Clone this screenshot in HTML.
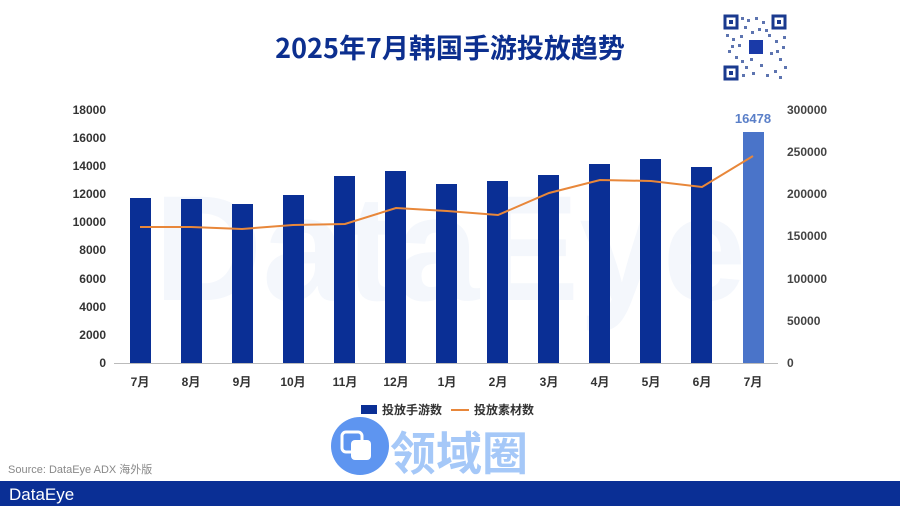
<!DOCTYPE html>
<html><head><meta charset="utf-8"><style>
body{margin:0;width:900px;height:506px;overflow:hidden;background:#fff;font-family:"Liberation Sans","Noto Sans CJK SC",sans-serif}
</style></head><body>
<svg width="900" height="506" viewBox="0 0 900 506" xmlns="http://www.w3.org/2000/svg" font-family="Liberation Sans, Noto Sans CJK SC, sans-serif">
<text x="450" y="58" text-anchor="middle" font-size="27" font-weight="bold" fill="#0c2f8f" font-family="Noto Sans CJK SC, sans-serif">2025年7月韩国手游投放趋势</text>
<!-- QR -->
<g fill="#1a3a8f">
<rect x="723" y="14" width="64" height="66" fill="#fff"/>
<rect x="725" y="16" width="12" height="12" fill="none" stroke="#1a3a8f" stroke-width="3"/>
<rect x="773" y="16" width="12" height="12" fill="none" stroke="#1a3a8f" stroke-width="3"/>
<rect x="725" y="67" width="12" height="12" fill="none" stroke="#1a3a8f" stroke-width="3"/>
<rect x="729" y="20" width="4" height="4"/><rect x="777" y="20" width="4" height="4"/><rect x="729" y="71" width="4" height="4"/>
<rect x="749" y="40" width="14" height="14" fill="#1a3aa8"/>
<g opacity="0.7">
<rect x="741" y="17" width="3" height="3"/><rect x="747" y="19" width="3" height="3"/><rect x="755" y="17" width="3" height="3"/><rect x="762" y="21" width="3" height="3"/><rect x="744" y="26" width="3" height="3"/><rect x="758" y="28" width="3" height="3"/><rect x="751" y="31" width="3" height="3"/><rect x="765" y="29" width="3" height="3"/>
<rect x="726" y="34" width="3" height="3"/><rect x="732" y="38" width="3" height="3"/><rect x="738" y="44" width="3" height="3"/><rect x="728" y="50" width="3" height="3"/><rect x="735" y="56" width="3" height="3"/><rect x="741" y="60" width="3" height="3"/><rect x="731" y="45" width="3" height="3"/><rect x="740" y="35" width="3" height="3"/>
<rect x="768" y="34" width="3" height="3"/><rect x="775" y="40" width="3" height="3"/><rect x="782" y="46" width="3" height="3"/><rect x="770" y="52" width="3" height="3"/><rect x="779" y="58" width="3" height="3"/><rect x="784" y="66" width="3" height="3"/><rect x="776" y="50" width="3" height="3"/><rect x="783" y="36" width="3" height="3"/>
<rect x="745" y="66" width="3" height="3"/><rect x="752" y="72" width="3" height="3"/><rect x="760" y="64" width="3" height="3"/><rect x="766" y="74" width="3" height="3"/><rect x="774" y="70" width="3" height="3"/><rect x="750" y="58" width="3" height="3"/><rect x="742" y="74" width="3" height="3"/><rect x="779" y="76" width="3" height="3"/>
</g></g>
<!-- watermark -->
<text x="450" y="300" text-anchor="middle" font-size="150" font-weight="bold" fill="#f4f7fc">DataEye</text>
<!-- axes labels -->
<g font-size="12" font-weight="bold" fill="#333" text-anchor="end">
<text x="106" y="367">0</text><text x="106" y="339">2000</text><text x="106" y="311">4000</text><text x="106" y="283">6000</text><text x="106" y="254">8000</text><text x="106" y="226">10000</text><text x="106" y="198">12000</text><text x="106" y="170">14000</text><text x="106" y="142">16000</text><text x="106" y="114">18000</text>
</g>
<g font-size="12" font-weight="bold" fill="#444" text-anchor="start">
<text x="787" y="367">0</text><text x="787" y="325">50000</text><text x="787" y="283">100000</text><text x="787" y="240">150000</text><text x="787" y="198">200000</text><text x="787" y="156">250000</text><text x="787" y="114">300000</text>
</g>
<line x1="114" y1="363.5" x2="778" y2="363.5" stroke="#bbb" stroke-width="1"/>
<!-- bars -->
<g fill="#0a2f95">
<rect x="130" y="198" width="21" height="165"/>
<rect x="181" y="199" width="21" height="164"/>
<rect x="232" y="204" width="21" height="159"/>
<rect x="283" y="195" width="21" height="168"/>
<rect x="334" y="176" width="21" height="187"/>
<rect x="385" y="171" width="21" height="192"/>
<rect x="436" y="184" width="21" height="179"/>
<rect x="487" y="181" width="21" height="182"/>
<rect x="538" y="175" width="21" height="188"/>
<rect x="589" y="164" width="21" height="199"/>
<rect x="640" y="159" width="21" height="204"/>
<rect x="691" y="167" width="21" height="196"/>
</g>
<rect x="743" y="132" width="21" height="231" fill="#4a74c9"/>
<text x="753" y="123" text-anchor="middle" font-size="13" font-weight="bold" fill="#5a7fc8">16478</text>
<polyline fill="none" stroke="#e8873a" stroke-width="2" points="140,227 191,227 242,229 293,225 345,224 396,208 447,211 498,215 549,193 600,180 651,181 702,187 753,156"/>
<g font-size="12" font-weight="bold" fill="#333" text-anchor="middle">
<text x="140" y="386">7月</text><text x="191" y="386">8月</text><text x="242" y="386">9月</text><text x="293" y="386">10月</text><text x="345" y="386">11月</text><text x="396" y="386">12月</text><text x="447" y="386">1月</text><text x="498" y="386">2月</text><text x="549" y="386">3月</text><text x="600" y="386">4月</text><text x="651" y="386">5月</text><text x="702" y="386">6月</text><text x="753" y="386">7月</text>
</g>
<!-- legend -->
<rect x="361" y="405" width="16" height="9" fill="#0a2f95"/>
<text x="382" y="414" font-size="12" font-weight="bold" fill="#333">投放手游数</text>
<line x1="451" y1="410" x2="469" y2="410" stroke="#e8873a" stroke-width="2"/>
<text x="474" y="414" font-size="12" font-weight="bold" fill="#333">投放素材数</text>
<!-- logo -->
<circle cx="360" cy="446" r="29" fill="#5e95f0"/>
<rect x="342" y="432" width="20" height="20" rx="4" fill="none" stroke="#fff" stroke-width="3"/>
<rect x="351" y="440" width="20" height="20" rx="4" fill="#fff"/>
<text x="390" y="470" font-size="46" font-weight="bold" fill="#a5c8f8" font-family="Noto Sans CJK SC, sans-serif">领域圈</text>
<text x="8" y="473" font-size="11" fill="#888">Source: DataEye ADX 海外版</text>
<rect x="0" y="481" width="900" height="25" fill="#0a2f95"/>
<text x="9" y="500" font-size="17" fill="#fff">DataEye</text>
</svg>
</body></html>
